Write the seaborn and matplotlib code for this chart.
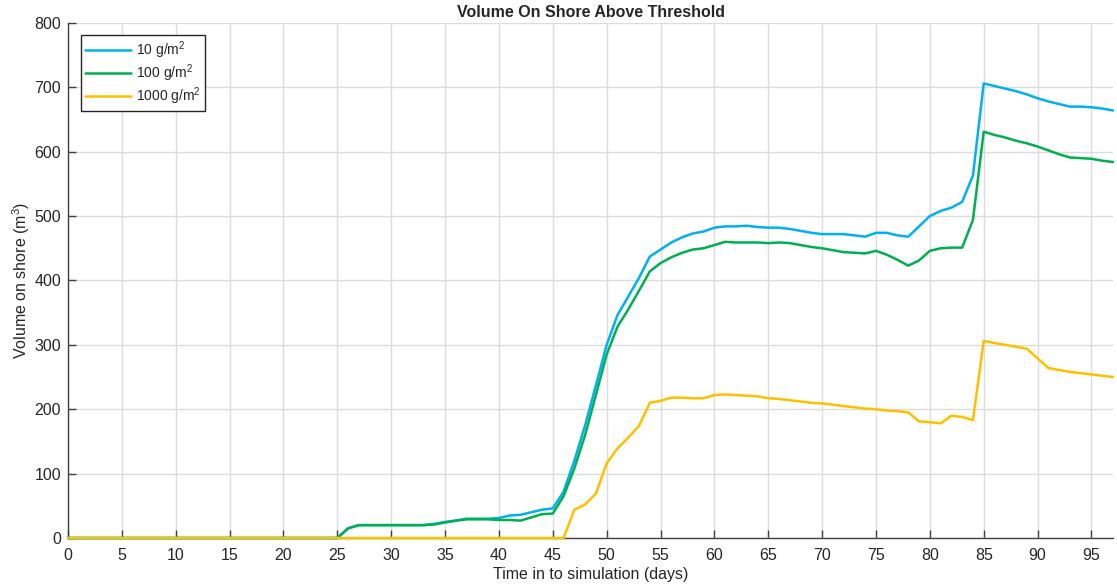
# Volume on shore above threshold - recreated with seaborn
import numpy as np
import pandas as pd
import seaborn as sns
import matplotlib.pyplot as plt

days = list(range(0, 98))

vol_10 = [0, 0, 0, 0, 0, 0, 0, 0, 0, 0, 0, 0, 0, 0, 0, 0, 0, 0, 0, 0, 0, 0, 0, 0, 0,
          0, 15, 20, 20, 20, 20, 20, 20, 20, 22, 25, 27, 30, 30, 30, 31, 35, 36, 40, 44,
          46, 72, 120, 175, 237, 300, 346, 375, 404, 437, 448, 459, 467, 473, 476,
          482, 484, 484, 485, 483, 482, 482, 480, 477, 474, 472, 472, 472, 470, 468,
          474, 474, 470, 468, 484, 500, 508, 513, 522, 563,
          706, 702, 698, 694, 689, 683, 678, 674, 670, 670, 669, 667, 664]

vol_100 = [0, 0, 0, 0, 0, 0, 0, 0, 0, 0, 0, 0, 0, 0, 0, 0, 0, 0, 0, 0, 0, 0, 0, 0, 0,
           0, 15, 20, 20, 20, 20, 20, 20, 20, 21, 24, 27, 29, 29, 29, 28, 28, 27, 32, 37,
           38, 65, 108, 160, 222, 285, 328, 355, 384, 414, 427, 436, 443, 448, 450,
           455, 460, 459, 459, 459, 458, 459, 458, 455, 452, 450, 447, 444, 443, 442,
           446, 440, 432, 423, 431, 446, 450, 451, 451, 494,
           631, 626, 622, 617, 613, 608, 602, 596, 591, 590, 589, 586, 584]

vol_1000 = [0, 0, 0, 0, 0, 0, 0, 0, 0, 0, 0, 0, 0, 0, 0, 0, 0, 0, 0, 0, 0, 0, 0, 0, 0,
            0, 0, 0, 0, 0, 0, 0, 0, 0, 0, 0, 0, 0, 0, 0, 0, 0, 0, 0, 0,
            0, 0, 44, 52, 69, 116, 139, 156, 174, 210, 213, 218, 218, 217, 217,
            222, 223, 222, 221, 220, 217, 216, 214, 212, 210, 209, 207, 205, 203, 201,
            200, 198, 197, 195, 181, 180, 178, 190, 188, 183,
            306, 303, 300, 297, 294, 279, 264, 261, 258, 256, 254, 252, 250]

labels = ["10 g/m$^2$", "100 g/m$^2$", "1000 g/m$^2$"]
colors = ["#00B0F0", "#00B050", "#FFC000"]

df = pd.concat([
    pd.DataFrame({"day": days, "volume": vol_10, "series": labels[0]}),
    pd.DataFrame({"day": days, "volume": vol_100, "series": labels[1]}),
    pd.DataFrame({"day": days, "volume": vol_1000, "series": labels[2]}),
])

sns.set_style("whitegrid")
plt.rcParams["font.family"] = ["Liberation Sans", "DejaVu Sans"]
plt.rcParams["mathtext.fontset"] = "custom"
plt.rcParams["mathtext.rm"] = "Liberation Sans"
plt.rcParams["mathtext.it"] = "Liberation Sans:italic"

fig = plt.figure(figsize=(11.17, 5.86), dpi=100)
ax = fig.add_axes([0.0609, 0.0819, 0.9355, 0.879])

sns.lineplot(data=df, x="day", y="volume", hue="series",
             palette=dict(zip(labels, colors)), linewidth=1.8, ax=ax)
# later series on top, and drawn over the x axis line like the original
for i, ln in enumerate(ax.lines):
    ln.set_clip_on(False)
    ln.set_zorder(3 + i)

ax.set_xlim(0, 97)
ax.set_ylim(0, 800)
ax.set_xticks(np.arange(0, 96, 5))
ax.set_yticks(np.arange(0, 801, 100))
ax.grid(True, color="#dcdcdc", linewidth=1)
ax.tick_params(bottom=True, left=True, direction="in", length=6, width=1,
               color="#404040", labelsize=11.5, labelcolor="#262626")
ax.tick_params(axis="x", pad=7)
ax.tick_params(axis="y", pad=5)
for s in ["top", "right"]:
    ax.spines[s].set_visible(False)
for s in ["left", "bottom"]:
    ax.spines[s].set_color("#404040")
    ax.spines[s].set_linewidth(1)

ax.set_title("Volume On Shore Above Threshold", fontsize=11.5,
             fontweight="bold", pad=4)
ax.set_xlabel("Time in to simulation (days)", fontsize=11.5, color="#262626", labelpad=3)
ax.set_ylabel("Volume on shore (m$^3$)", fontsize=11.5, color="#262626", labelpad=2)

leg = ax.legend(loc="upper left", fontsize=10, handlelength=3.3,
                handletextpad=0.4, fancybox=False, framealpha=1,
                borderaxespad=0.9, labelspacing=0.1, borderpad=0.3)
leg.get_frame().set_edgecolor("#262626")
leg.get_frame().set_linewidth(1)

fig.savefig("out.png", dpi=100)
plt.close(fig)
